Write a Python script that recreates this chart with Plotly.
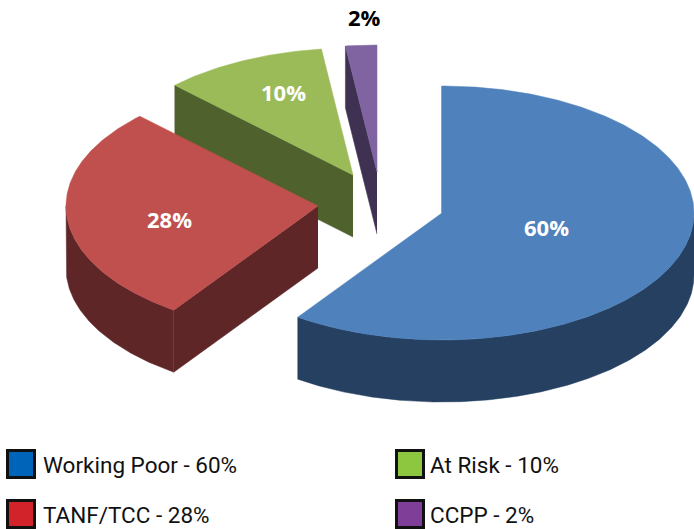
import numpy as np
import plotly.graph_objects as go

# Data
categories = ["Working Poor", "TANF/TCC", "At Risk", "CCPP"]
values = [59.7, 27.8, 10.5, 2.0]
slice_labels = ["60%", "28%", "10%", "2%"]
legend_labels = ["Working Poor - 60%", "TANF/TCC - 28%", "At Risk - 10%", "CCPP - 2%"]

# Styles
top_colors = ["#4f81bd", "#c0504d", "#9bbb59", "#8064a2"]
side_colors = ["#254061", "#5f2628", "#4f612c", "#3f3151"]
key_colors = ["#0065b8", "#d2232a", "#8dc63f", "#7f3f98"]
label_colors = ["white", "white", "white", "black"]

# Layout (window pixels): exploded apex of each slice, ellipse radii, extrusion depth
apex_x = [442, 318, 353, 377]
apex_y = [213, 206, 175, 172]
label_x = [546, 169, 283, 364]
label_y = [227, 219, 92, 17]
key_x = [21, 21, 410, 410]
key_y = [464, 514, 464, 514]
text_x = [41, 41, 428, 428]
text_y = [465, 515, 465, 515]
RX, RY, DEPTH = 252, 127, 62

W, H = 694, 529
fractions = np.array(values) / sum(values)
ends = np.cumsum(fractions) * 360
starts = ends - fractions * 360


def arc(cx, cy, a0, a1):
    t = np.radians(np.linspace(a0, a1, max(int(abs(a1 - a0) * 2), 2)))
    return cx + RX * np.sin(t), cy - RY * np.cos(t)


def poly(fig, x, y, color):
    fig.add_trace(go.Scatter(
        x=list(x), y=list(y), mode="lines", fill="toself", fillcolor=color,
        line=dict(width=0.5, color=color), hoverinfo="skip", showlegend=False))


fig = go.Figure()
# Painter's order: back slices first
for i in [3, 2, 1, 0]:
    cx, cy, a0, a1 = apex_x[i], apex_y[i], starts[i], ends[i]
    # outer wall: the front-facing part of the rim
    lo, hi = max(a0, 90), min(a1, 270)
    if hi > lo:
        ax, ay = arc(cx, cy, lo, hi)
        poly(fig, np.r_[ax, ax[::-1]], np.r_[ay, ay[::-1] + DEPTH], side_colors[i])
    # radial wall along the slice's starting edge
    ex, ey = arc(cx, cy, a0, a0)
    ex, ey = ex[0], ey[0]
    poly(fig, [cx, ex, ex, cx], [cy, ey, ey + DEPTH, cy + DEPTH], side_colors[i])
    # top face
    ax, ay = arc(cx, cy, a0, a1)
    poly(fig, np.r_[cx, ax, cx], np.r_[cy, ay, cy], top_colors[i])

# Legend keys
fig.add_trace(go.Scatter(
    x=key_x, y=key_y, mode="markers", hoverinfo="skip", showlegend=False, cliponaxis=False,
    marker=dict(symbol="square", size=27, color=key_colors,
                line=dict(color="#111111", width=3))))

annotations = []
for i, name in enumerate(categories):
    annotations.append(dict(
        x=label_x[i], y=label_y[i], text=f"<b>{slice_labels[i]}</b>", showarrow=False,
        font=dict(family="Open Sans", size=22, color=label_colors[i]),
        xanchor="center", yanchor="middle"))
    annotations.append(dict(
        x=text_x[i], y=text_y[i], text=legend_labels[i], showarrow=False,
        font=dict(family="Roboto", size=22.5, color="#111111"),
        xanchor="left", yanchor="middle"))

fig.update_layout(
    width=W, height=H, margin=dict(l=0, r=0, t=0, b=0),
    paper_bgcolor="white", plot_bgcolor="white", showlegend=False,
    xaxis=dict(range=[0, W], visible=False, fixedrange=True),
    yaxis=dict(range=[H, 0], visible=False, fixedrange=True),
    annotations=annotations)
# Remove the page's default body margin so the figure fills the window exactly
fig.write_html("out.html", config=dict(displayModeBar=False),
               post_script="document.body.style.margin='0';document.documentElement.style.overflow='hidden';")
